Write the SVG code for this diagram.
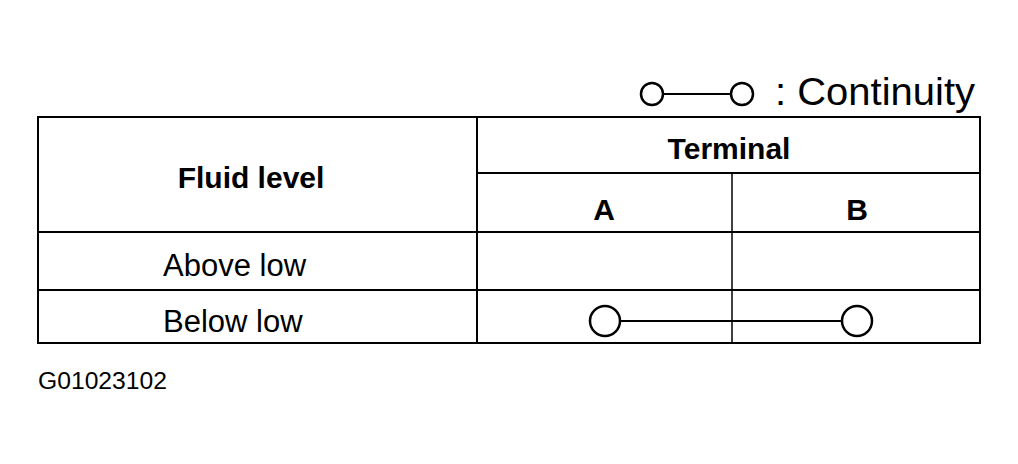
<svg xmlns="http://www.w3.org/2000/svg" width="1018" height="464" viewBox="0 0 1018 464">
<style>
.l{stroke:#000;stroke-width:2;fill:none}
.c{stroke:#000;stroke-width:2.5;fill:#fff}
text{font-family:"Liberation Sans",Arial,sans-serif;fill:#000}
.b{font-weight:bold;font-size:30px;text-anchor:middle}
.n{font-size:31px}
</style>
<rect width="1018" height="464" fill="#fff"/>
<g id="legend">
<line class="l" x1="664" y1="94" x2="731" y2="94"/>
<circle class="c" cx="652" cy="94" r="11"/>
<circle class="c" cx="742" cy="94" r="11"/>
<text x="775" y="105" style="font-size:38px" textLength="200" lengthAdjust="spacingAndGlyphs">: Continuity</text>
</g>
<g id="table">
<rect class="l" x="38" y="117" width="942" height="226"/>
<line class="l" x1="477" y1="173" x2="980" y2="173"/>
<line class="l" x1="38" y1="232" x2="980" y2="232"/>
<line class="l" x1="38" y1="290" x2="980" y2="290"/>
<line class="l" x1="477" y1="117" x2="477" y2="343"/>
<line class="l" x1="732" y1="173" x2="732" y2="343" style="stroke-width:1.5"/>
<text class="b" x="251" y="188">Fluid level</text>
<text class="b" x="729" y="159">Terminal</text>
<text class="b" x="604" y="220">A</text>
<text class="b" x="857" y="220">B</text>
<text class="n" x="163" y="276">Above low</text>
<text class="n" x="163" y="332">Below low</text>
</g>
<g id="connectors">
<line class="l" x1="620" y1="321" x2="842" y2="321"/>
<circle class="c" cx="605" cy="321" r="15"/>
<circle class="c" cx="857" cy="321" r="15"/>
</g>
<text x="38" y="389" style="font-size:23px" textLength="129" lengthAdjust="spacingAndGlyphs">G01023102</text>
</svg>
